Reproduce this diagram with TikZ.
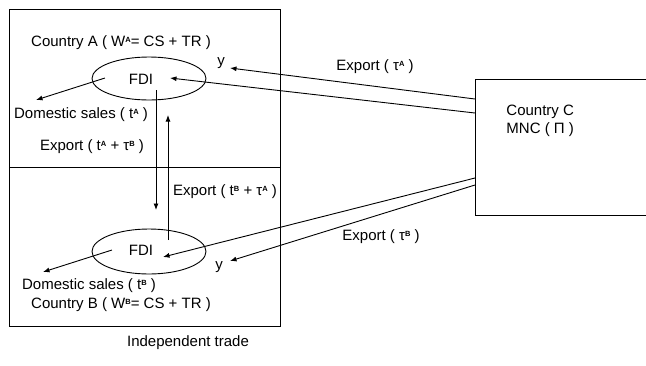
\documentclass[tikz,border=0pt]{standalone}
\usepackage{fontspec}
\setmainfont{Liberation Sans}
\usetikzlibrary{shapes.geometric,arrows.meta}
\newcommand{\sps}[1]{\raisebox{0.6ex}{\fontsize{7.5}{7.5}\selectfont\bfseries #1}}
\begin{document}
\begin{tikzpicture}
[
    x=1pt, y=-1pt,
    country/.style={draw, minimum width=271pt, minimum height=158pt, inner sep=0pt},
    market/.style={ellipse, draw, minimum width=114pt, minimum height=43pt, inner sep=0pt},
    lbl/.style={inner sep=1pt, font=\fontsize{15}{17}\selectfont},
    flow/.style={-{Latex[length=6.5pt,width=5pt]}, line width=0.9pt},
    every node/.append style={line width=0.9pt},
]
    \clip (0,0) rectangle (646,365);

    % countries
    \node[country] (boxA) at (144.5,88) {};
    \node[country, minimum height=159pt] (boxB) at (144.5,246.5) {};
    \node[draw, minimum width=200pt, minimum height=136pt] (boxC) at (575,147) {};

    % FDI markets
    \node[market] (ellA) at (149,78.5) {};
    \node[market, minimum height=45pt] (ellB) at (149,251.5) {};

    % labels
    \node[lbl] (titleA) at (121,43) {Country A ( W\sps{A}= CS + TR )};
    \node[lbl] (fdiA) at (141,79) {FDI};
    \node[lbl] (yA) at (221,63) {y};
    \node[lbl] (domA) at (81,115) {Domestic sales ( t\sps{A} )};
    \node[lbl] (expA) at (92,147) {Export ( t\sps{A} + τ\sps{B} )};
    \node[lbl] (expBA) at (225,192) {Export ( t\sps{B} + τ\sps{A} )};
    \node[lbl] (fdiB) at (141,250) {FDI};
    \node[lbl] (yB) at (219,267) {y};
    \node[lbl] (domB) at (89,286) {Domestic sales ( t\sps{B} )};
    \node[lbl] (titleB) at (121,305) {Country B ( W\sps{B}= CS + TR )};
    \node[lbl] (expCA) at (375,67) {Export ( τ\sps{A} )};
    \node[lbl] (expCB) at (381,237) {Export ( τ\sps{B} )};
    \node[lbl, anchor=west] (ctryC) at (505,112) {Country C};
    \node[lbl, anchor=west] (mnc) at (505,130) {MNC ( Π )};
    \node[lbl] (caption) at (188,343) {Independent trade};

    % connector ends
    \coordinate (cA1) at (475,99);
    \coordinate (cA2) at (475,113);
    \coordinate (cB1) at (475,178);
    \coordinate (cB2) at (475,185);
    \coordinate (tipA1) at (230,68);
    \coordinate (tipA2) at (170,78);
    \coordinate (tipB1) at (163,257);
    \coordinate (tipB2) at (230,261);
    \coordinate (dA1) at (105,78);
    \coordinate (dA2) at (36,100);
    \coordinate (dB1) at (112,250);
    \coordinate (dB2) at (43,272);
    \coordinate (vD1) at (156,90);
    \coordinate (vD2) at (156,210);
    \coordinate (vU1) at (168,240);
    \coordinate (vU2) at (168,115);

    \draw[flow] (cA1) -- (tipA1);
    \draw[flow] (cA2) -- (tipA2);
    \draw[flow] (cB1) -- (tipB1);
    \draw[flow] (cB2) -- (tipB2);
    \draw[flow] (dA1) -- (dA2);
    \draw[flow] (dB1) -- (dB2);
    \draw[flow] (vD1) -- (vD2);
    \draw[flow] (vU1) -- (vU2);
\end{tikzpicture}
\end{document}
